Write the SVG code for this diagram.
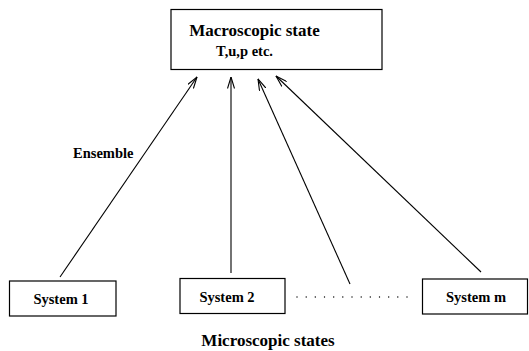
<svg xmlns="http://www.w3.org/2000/svg" width="529" height="351" viewBox="0 0 529 351">
<style>
  .box { fill: #fff; stroke: #000; stroke-width: 1.2; }
  .t { font-family: "Liberation Serif", "Times New Roman", serif; font-weight: bold; fill: #000; }
  .big { font-size: 17px; }
  .sm { font-size: 14.5px; }
  .conn { stroke: #000; stroke-width: 1.1; fill: none; marker-end: url(#ah); }
</style>
<defs>
  <marker id="ah" viewBox="0 0 12 8" refX="11.5" refY="4" markerWidth="12" markerHeight="8" markerUnits="userSpaceOnUse" orient="auto">
    <path d="M0,0.5 L11.5,4 L0,7.5" fill="none" stroke="#000" stroke-width="1.1"/>
  </marker>
</defs>
<rect width="529" height="351" fill="#fff"/>
<g id="macro">
  <rect class="box" x="171" y="9.5" width="211" height="60"/>
  <text class="t big" x="254.5" y="36" text-anchor="middle">Macroscopic state</text>
  <text class="t sm" x="244.5" y="56" text-anchor="middle">T,u,p etc.</text>
</g>
<g id="system1">
  <rect class="box" x="9.5" y="281" width="106.5" height="35"/>
  <text class="t sm" x="61" y="304" text-anchor="middle">System 1</text>
</g>
<g id="system2">
  <rect class="box" x="180" y="278.5" width="105" height="35"/>
  <text class="t sm" x="227" y="302" text-anchor="middle">System 2</text>
</g>
<g id="systemm">
  <rect class="box" x="422.5" y="279" width="105" height="35"/>
  <text class="t sm" x="476" y="302" text-anchor="middle">System m</text>
</g>
<g id="dots" fill="#000">
  <circle cx="297" cy="297" r="0.7"/>
  <circle cx="306.2" cy="297" r="0.7"/>
  <circle cx="315.3" cy="297" r="0.7"/>
  <circle cx="324.5" cy="297" r="0.7"/>
  <circle cx="333.7" cy="297" r="0.7"/>
  <circle cx="342.8" cy="297" r="0.7"/>
  <circle cx="352" cy="297" r="0.7"/>
  <circle cx="361.2" cy="297" r="0.7"/>
  <circle cx="370.3" cy="297" r="0.7"/>
  <circle cx="379.5" cy="297" r="0.7"/>
  <circle cx="388.7" cy="297" r="0.7"/>
  <circle cx="397.8" cy="297" r="0.7"/>
  <circle cx="407" cy="297" r="0.7"/>
</g>
<g id="connectors">
  <line class="conn" x1="60" y1="277" x2="197" y2="77"/>
  <line class="conn" x1="231" y1="273" x2="231" y2="77"/>
  <line class="conn" x1="350" y1="284" x2="258" y2="79"/>
  <line class="conn" x1="481" y1="272" x2="276" y2="76"/>
</g>
<text class="t sm" x="73" y="158">Ensemble</text>
<text class="t big" x="268" y="346" text-anchor="middle">Microscopic states</text>
</svg>
